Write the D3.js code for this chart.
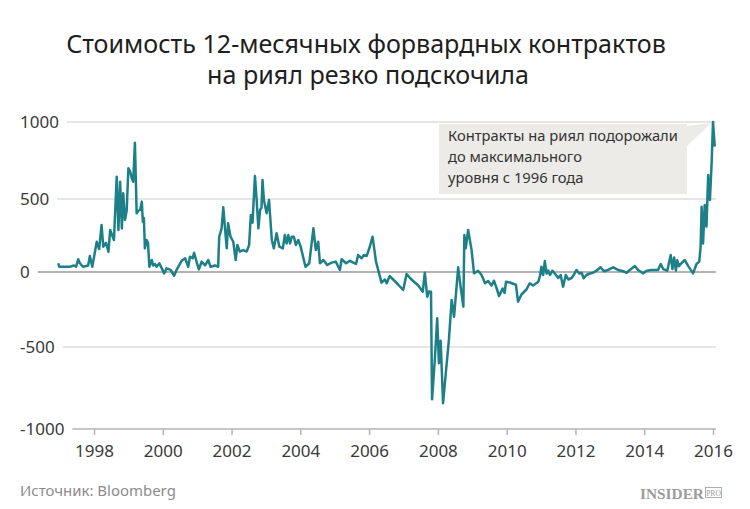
<!DOCTYPE html>
<html>
<head>
<meta charset="utf-8">
<title>Стоимость 12-месячных форвардных контрактов на риял</title>
<style>
    body {
        margin: 0;
        background: #fff;
        font-family: "Noto Sans", sans-serif;
    }
</style>
<script src="https://d3js.org/d3.v7.min.js"></script>
</head>
<body>
<svg width="750" height="509"></svg>
<script>

    // данные (дата в долях года, пункты)
    var years = [
        1996.96, 1996.99, 1997.30, 1997.42, 1997.48, 1997.54, 1997.59, 1997.68, 1997.83, 1997.88,
        1997.95, 1998.08, 1998.15, 1998.22, 1998.27, 1998.35, 1998.42, 1998.47, 1998.58, 1998.66,
        1998.71, 1998.76, 1998.81, 1998.85, 1998.90, 1998.95, 1999.00, 1999.05, 1999.10, 1999.14,
        1999.19, 1999.24, 1999.29, 1999.34, 1999.39, 1999.42, 1999.45, 1999.48, 1999.53, 1999.57,
        1999.61, 1999.68, 1999.72, 1999.77, 1999.82, 1999.90, 1999.97, 2000.04, 2000.11, 2000.23,
        2000.33, 2000.40, 2000.55, 2000.65, 2000.74, 2000.79, 2000.87, 2000.91, 2000.99, 2001.05,
        2001.13, 2001.23, 2001.32, 2001.39, 2001.52, 2001.61, 2001.64, 2001.71, 2001.76, 2001.81,
        2001.86, 2001.90, 2001.97, 2002.05, 2002.12, 2002.17, 2002.24, 2002.34, 2002.44, 2002.51,
        2002.56, 2002.61, 2002.68, 2002.73, 2002.78, 2002.83, 2002.87, 2002.90, 2002.94, 2003.02,
        2003.09, 2003.17, 2003.23, 2003.31, 2003.39, 2003.49, 2003.55, 2003.60, 2003.65, 2003.70,
        2003.75, 2003.81, 2003.87, 2003.94, 2004.01, 2004.08, 2004.15, 2004.26, 2004.38, 2004.45,
        2004.52, 2004.57, 2004.67, 2004.78, 2004.91, 2005.03, 2005.15, 2005.20, 2005.33, 2005.44,
        2005.54, 2005.62, 2005.68, 2005.78, 2005.85, 2005.93, 2006.02, 2006.10, 2006.20, 2006.29,
        2006.36, 2006.46, 2006.51, 2006.60, 2006.70, 2006.85, 2006.99, 2007.09, 2007.19, 2007.28,
        2007.43, 2007.56, 2007.62, 2007.69, 2007.74, 2007.80, 2007.83, 2007.91, 2007.98, 2008.03,
        2008.08, 2008.15, 2008.23, 2008.32, 2008.40, 2008.47, 2008.59, 2008.66, 2008.74, 2008.77,
        2008.81, 2008.88, 2008.98, 2009.05, 2009.17, 2009.27, 2009.37, 2009.46, 2009.56, 2009.63,
        2009.71, 2009.78, 2009.88, 2009.94, 2009.98, 2010.09, 2010.27, 2010.33, 2010.43, 2010.58,
        2010.67, 2010.77, 2010.92, 2010.97, 2011.01, 2011.06, 2011.11, 2011.16, 2011.21, 2011.26,
        2011.33, 2011.40, 2011.50, 2011.57, 2011.64, 2011.72, 2011.79, 2011.89, 2011.95, 2012.03,
        2012.11, 2012.18, 2012.24, 2012.32, 2012.42, 2012.51, 2012.61, 2012.73, 2012.83, 2012.95,
        2013.10, 2013.24, 2013.39, 2013.49, 2013.58, 2013.73, 2013.82, 2013.97, 2014.07, 2014.21,
        2014.40, 2014.48, 2014.55, 2014.67, 2014.77, 2014.82, 2014.87, 2014.92, 2014.96, 2015.01,
        2015.08, 2015.18, 2015.28, 2015.42, 2015.52, 2015.60, 2015.64, 2015.67, 2015.71, 2015.76,
        2015.81, 2015.86, 2015.91, 2015.96, 2016.00, 2016.05
    ];

    var values = [
        60, 36, 36, 45, 36, 87, 60, 36, 45, 110,
        36, 207, 157, 322, 173, 200, 139, 288, 219, 645,
        288, 612, 299, 537, 356, 420, 699, 680, 634, 612,
        866, 402, 420, 425, 482, 345, 370, 162, 219, 200,
        36, 82, 45, 55, 36, 60, 25, -9, 25, 14,
        -25, 14, 77, 94, 36, 105, 94, 132, 64, 18,
        71, 45, 82, 36, 45, 36, 238, 299, 443, 299,
        162, 334, 242, 207, 82, 185, 140, 150, 140, 185,
        390, 338, 649, 493, 299, 425, 440, 623, 493, 402,
        493, 219, 162, 265, 173, 162, 253, 196, 253, 196,
        242, 242, 185, 219, 173, 105, 36, 60, 299, 150,
        207, 60, 82, 48, 64, 71, 14, 87, 60, 77,
        64, 55, 116, 94, 116, 110, 173, 242, 71, -9,
        -71, -50, -75, -27, -50, -85, -120, -13, -40, -60,
        -90, -131, -5, -165, -130, -131, -819, -579, -309, -599,
        -458, -843, -660, -453, -187, -298, 32, -98, -231, 253,
        162, 288, 150, -9, 9, -20, -75, -60, -90, -58,
        -110, -160, -110, -140, -65, -70, -85, -198, -150, -115,
        -75, -90, -65, -25, 36, -20, 75, -10, 9, -20,
        9, -10, -40, -20, -98, -20, -50, -40, -20, 14,
        -10, -5, -42, -20, -10, -5, 9, 32, 5, 14,
        32, 14, 5, -5, 14, 41, 14, -9, 9, 14,
        14, 55, 20, 9, 116, 20, 100, 10, 80, 40,
        60, 82, 40, -9, 55, 71, 173, 447, 196, 459,
        310, 656, 493, 732, 1000, 840
    ];

    var yearTicks = [1998, 2000, 2002, 2004, 2006, 2008, 2010, 2012, 2014, 2016];
    var valueTicks = [1000, 500, 0, -500, -1000];

    var titleLines = ["Стоимость 12-месячных форвардных контрактов", "на риял резко подскочила"];
    var noteLines = ["Контракты на риял подорожали", "до максимального", "уровня с 1996 года"];
    var sourceText = "Источник: Bloomberg";

    var points = years.map(function (d, i) { return { year: d, value: values[i] }; });

    var svg = d3.select("svg");

    var x = d3.scaleLinear().domain([1998, 2016]).range([94, 713]);
    var y = d3.scaleLinear().domain([-1000, -500, 0, 500, 1000]).range([429, 347, 272, 199, 122]);

    // подгон размера шрифта под ширину строки
    function fitSize(sel, width) {
        var w = sel.node().getComputedTextLength();
        return parseFloat(sel.attr("font-size")) * width / w;
    }

    // заголовок
    var title = svg.append("g").attr("fill", "#1e1e1e");
    var t1 = title.append("text")
        .attr("x", 366).attr("y", 53)
        .attr("text-anchor", "middle")
        .attr("font-size", 26)
        .text(titleLines[0]);
    var titleSize = fitSize(t1, 600);
    t1.attr("font-size", titleSize);
    title.append("text")
        .attr("x", 368).attr("y", 84)
        .attr("text-anchor", "middle")
        .attr("font-size", titleSize)
        .text(titleLines[1]);

    // сетка и подписи оси Y
    var grid = svg.append("g");
    valueTicks.forEach(function (v) {
        var label = grid.append("text")
            .attr("x", 20)
            .attr("y", y(v) + 6)
            .attr("font-size", 17)
            .attr("fill", "#3a3a3a")
            .text(v);
        var w = label.node().getComputedTextLength();
        grid.append("line")
            .attr("x1", 20 + w + 8)
            .attr("x2", 716)
            .attr("y1", y(v))
            .attr("y2", y(v))
            .attr("stroke", v === 0 ? "#9a9a9a" : (v === -1000 ? "#b4b4b4" : "#dedede"))
            .attr("stroke-width", 1.5);
    });

    // ось X
    var xAxis = svg.append("g")
        .attr("transform", "translate(0," + y(-1000) + ")")
        .call(d3.axisBottom(x)
            .tickValues(yearTicks)
            .tickFormat(d3.format("d"))
            .tickSize(6)
            .tickPadding(10));
    xAxis.select(".domain").remove();
    xAxis.selectAll(".tick line").attr("stroke", "#b4b4b4").attr("stroke-width", 1.5);
    xAxis.selectAll(".tick text")
        .attr("font-size", 17)
        .attr("font-family", "Noto Sans, sans-serif")
        .attr("fill", "#3a3a3a");

    // выноска
    var peak = points.reduce(function (a, b) { return b.value > a.value ? b : a; });
    var note = svg.append("g");
    note.append("rect")
        .attr("x", 439).attr("y", 124)
        .attr("width", 248).attr("height", 70)
        .attr("fill", "#ecebe8");
    note.append("polygon")
        .attr("points", [[687, 126], [x(peak.year) - 2, y(peak.value) + 1], [687, 146]].join(" "))
        .attr("fill", "#ecebe8");
    var n1 = note.append("text")
        .attr("x", 448).attr("y", 141)
        .attr("font-size", 16)
        .attr("fill", "#333")
        .text(noteLines[0]);
    var noteSize = fitSize(n1, 230);
    n1.attr("font-size", noteSize);
    noteLines.slice(1).forEach(function (s, i) {
        note.append("text")
            .attr("x", 448).attr("y", 162 + i * 21)
            .attr("font-size", noteSize)
            .attr("fill", "#333")
            .text(s);
    });

    // линия
    var line = d3.line()
        .x(function (d) { return x(d.year); })
        .y(function (d) { return y(d.value); });

    svg.append("path")
        .datum(points)
        .attr("d", line)
        .attr("fill", "none")
        .attr("stroke", "#1d8088")
        .attr("stroke-width", 2.5)
        .attr("stroke-linejoin", "round");

    // подвал
    var src = svg.append("text")
        .attr("x", 20).attr("y", 496)
        .attr("font-size", 15)
        .attr("fill", "#8c8c8c")
        .text(sourceText);
    src.attr("font-size", fitSize(src, 156));

    var logo = svg.append("g").attr("fill", "#9b9b9b");
    var ins = logo.append("text")
        .attr("x", 640).attr("y", 499)
        .attr("font-size", 16)
        .attr("font-family", "Liberation Serif, DejaVu Serif, serif")
        .attr("font-weight", "bold")
        .text("INSIDER");
    ins.attr("font-size", fitSize(ins, 64));
    logo.append("rect")
        .attr("x", 705.5).attr("y", 487.5)
        .attr("width", 16).attr("height", 10)
        .attr("fill", "none")
        .attr("stroke", "#9b9b9b")
        .attr("stroke-width", 0.8);
    logo.append("text")
        .attr("x", 713.5).attr("y", 495.5)
        .attr("text-anchor", "middle")
        .attr("font-size", 7.5)
        .attr("font-family", "Liberation Serif, DejaVu Serif, serif")
        .text("PRO");

</script>
</body>
</html>
